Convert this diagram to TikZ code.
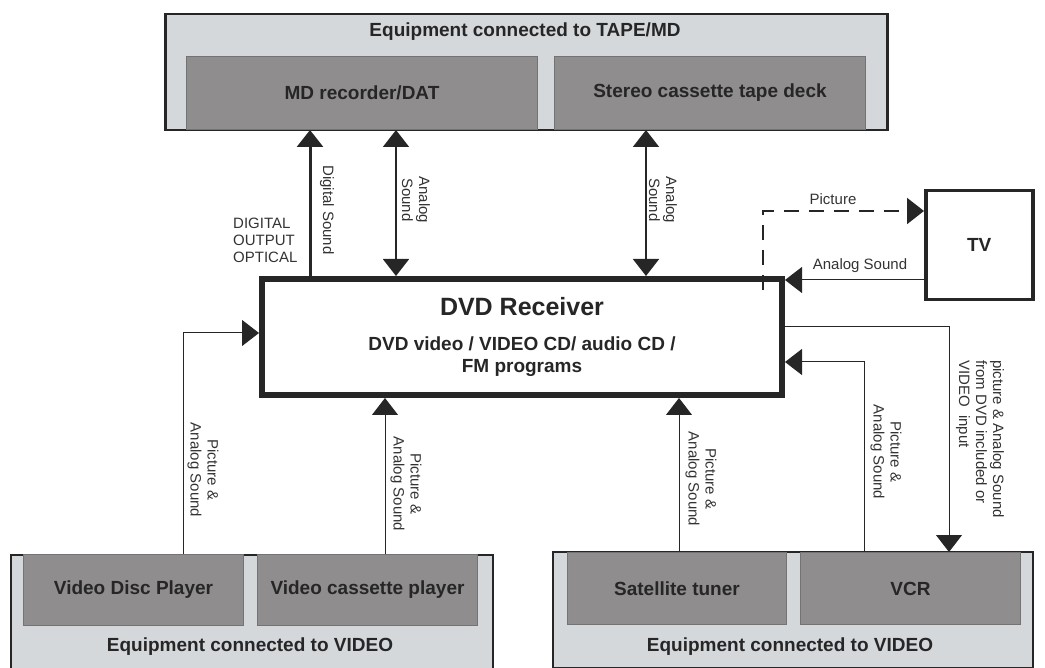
\documentclass[tikz,border=0pt]{standalone}
\usepackage{fontspec}
\setmainfont{Liberation Sans}
\usetikzlibrary{arrows.meta,positioning}
\definecolor{groupgray}{HTML}{D5D8DB}
\definecolor{devicegray}{HTML}{8F8D8E}
\definecolor{inkgray}{HTML}{262626}
\begin{document}
\begin{tikzpicture}[x=1pt, y=-1pt, >={Triangle[width=26pt,length=17pt]},
  groupbox/.style={draw=inkgray, line width=2.5pt, fill=groupgray, anchor=north west, inner sep=0pt},
  devbox/.style={draw=black!55, line width=1pt, fill=devicegray, anchor=north west, inner sep=0pt,
    text=inkgray, font=\bfseries\fontsize{19}{22}\selectfont},
  heading/.style={text=inkgray, font=\bfseries\fontsize{19}{22}\selectfont},
  note/.style={text=black!80, font=\fontsize{15}{17}\selectfont, align=center, inner sep=0pt},
  wire/.style={draw=inkgray, line width=1pt}]
  \useasboundingbox (0,0) rectangle (1045,668);

  % x and y positions of the connectors
  \coordinate (xdig) at (310,0);
  \coordinate (xana) at (396,0);
  \coordinate (xtape) at (646,0);
  \coordinate (xpic) at (763,0);
  \coordinate (xvdp) at (183,0);
  \coordinate (xvcp) at (385,0);
  \coordinate (xsat) at (679,0);
  \coordinate (xvcr) at (864,0);
  \coordinate (xout) at (949,0);
  \coordinate (ypic) at (0,211);
  \coordinate (ytv) at (0,280);
  \coordinate (yvdp) at (0,333);
  \coordinate (yout) at (0,327);
  \coordinate (yvcr) at (0,362);

  % equipment on TAPE/MD
  \node[groupbox, minimum width=722pt, minimum height=116pt] (tape) at (164,13) {};
  \node[heading] (tapetitle) at (525,32) {Equipment connected to TAPE/MD};
  \node[devbox, minimum width=351pt, minimum height=73pt] (md) at (186,56) {MD recorder/DAT};
  \node[devbox, minimum width=311pt, minimum height=73pt] (deck) at (554,56) {Stereo cassette tape deck};

  % receiver and TV
  \node[draw=inkgray, line width=6pt, fill=white, anchor=north west, minimum width=520pt,
    minimum height=116pt, align=center, text=inkgray, font=\bfseries\fontsize{19}{22}\selectfont]
    (rcv) at (259,276) {{\fontsize{25}{30}\selectfont DVD Receiver}\\[13pt]
    DVD video / VIDEO CD/ audio CD /\\FM programs};
  \node[draw=inkgray, line width=3.5pt, fill=white, anchor=north west, minimum width=107pt,
    minimum height=109pt, text=inkgray, font=\bfseries\fontsize{19}{22}\selectfont]
    (tv) at (924,189) {TV};

  % equipment on VIDEO
  \node[groupbox, minimum width=482pt, minimum height=114pt] (videoL) at (9.5,553.5) {};
  \node[devbox, minimum width=220pt, minimum height=71pt] (vdp) at (23,554) {Video Disc Player};
  \node[devbox, minimum width=220pt, minimum height=71pt] (vcp) at (257,554) {Video cassette player};
  \node[heading] (videoLtitle) at (250,647) {Equipment connected to VIDEO};
  \node[groupbox, minimum width=480pt, minimum height=116pt] (videoR) at (551.5,550.5) {};
  \node[devbox, minimum width=219pt, minimum height=72pt] (sat) at (567,552) {Satellite tuner};
  \node[devbox, minimum width=220pt, minimum height=72pt] (vcr) at (800,552) {VCR};
  \node[heading] (videoRtitle) at (790,647) {Equipment connected to VIDEO};

  % connectors to TAPE/MD
  \draw[wire, line width=3pt, ->] (rcv.north -| xdig) -- (md.south -| xdig);
  \draw[wire, line width=1.8pt, <->] (md.south -| xana) -- (rcv.north -| xana);
  \draw[wire, line width=1.8pt, <->] (deck.south -| xtape) -- (rcv.north -| xtape);

  % connectors to TV
  \draw[wire, line width=2pt, dash pattern=on 15pt off 10pt, ->] ([yshift=-14pt]rcv.north -| xpic) |- (tv.west |- ypic);
  \draw[wire, ->] (tv.west |- ytv) -- (rcv.east |- ytv);

  % connectors from VIDEO
  \draw[wire, ->] (vdp.north -| xvdp) |- (rcv.west |- yvdp);
  \draw[wire, ->] (vcp.north -| xvcp) -- (rcv.south -| xvcp);
  \draw[wire, ->] (sat.north -| xsat) -- (rcv.south -| xsat);
  \draw[wire, ->] (vcr.north -| xvcr) |- (rcv.east |- yvcr);
  \draw[wire, ->] (rcv.east |- yout) -| (vcr.north -| xout);

  % labels
  \node[note, align=left, anchor=west] (optical) at (233,240) {DIGITAL\\OUTPUT\\OPTICAL};
  \node[note, rotate=-90] (lbldig) at (327,210) {Digital Sound};
  \node[note, rotate=-90] (lblana) at (416,200) {Analog\\Sound};
  \node[note, rotate=-90] (lbltape) at (663,200) {Analog\\Sound};
  \node[note] (lblpic) at (833,199) {Picture};
  \node[note] (lbltv) at (860,266) {Analog Sound};
  \node[note, rotate=-90] (lblvdp) at (203,470) {Picture \&\\Analog Sound};
  \node[note, rotate=-90] (lblvcp) at (406,484) {Picture \&\\Analog Sound};
  \node[note, rotate=-90] (lblsat) at (701,479) {Picture \&\\Analog Sound};
  \node[note, rotate=-90] (lblvcr) at (886,452) {Picture \&\\Analog Sound};
  \node[note, rotate=-90, align=left] (lblout) at (980,439) {picture \& Analog Sound\\from DVD included or\\VIDEO\ \ input};
\end{tikzpicture}
\end{document}
